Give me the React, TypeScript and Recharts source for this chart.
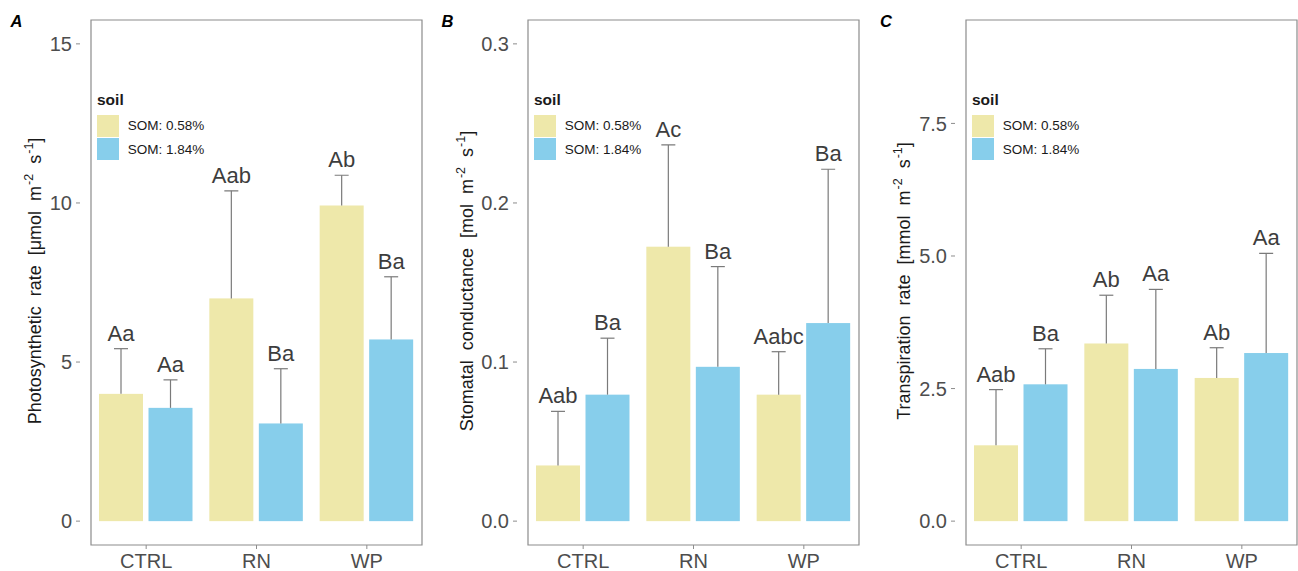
import React from "react";
import { Bar, BarChart, Legend, ReferenceArea, XAxis, YAxis } from "recharts";

const groups = ["CTRL", "RN", "WP"];
const seriesNames = ["SOM: 0.58%", "SOM: 1.84%"];

// A - photosynthetic rate
const photoLow = [4.0, 7.0, 9.92];
const photoLowErr = [1.42, 3.38, 0.95];
const photoLowSig = ["Aa", "Aab", "Ab"];
const photoHigh = [3.56, 3.07, 5.71];
const photoHighErr = [0.88, 1.72, 1.97];
const photoHighSig = ["Aa", "Ba", "Ba"];

// B - stomatal conductance
const condLow = [0.035, 0.1725, 0.0795];
const condLowErr = [0.034, 0.064, 0.027];
const condLowSig = ["Aab", "Ac", "Aabc"];
const condHigh = [0.0795, 0.097, 0.1245];
const condHighErr = [0.0355, 0.063, 0.0967];
const condHighSig = ["Ba", "Ba", "Ba"];

// C - transpiration rate
const transLow = [1.43, 3.35, 2.7];
const transLowErr = [1.05, 0.91, 0.57];
const transLowSig = ["Aab", "Ab", "Ab"];
const transHigh = [2.58, 2.87, 3.17];
const transHighErr = [0.67, 1.5, 1.88];
const transHighSig = ["Ba", "Aa", "Aa"];

const FONT = "'Liberation Sans', Arial, sans-serif";
const LOW_COLOR = "#EEE8AA";
const HIGH_COLOR = "#87CEEB";
const ERR_COLOR = "#7a7a7a";
const BORDER = "#8c8c8c";

const buildRows = (
  low: number[], lowErr: number[], lowSig: string[],
  high: number[], highErr: number[], highSig: string[]
) =>
  groups.map((g, i) => ({
    group: g,
    low: low[i], lowErr: lowErr[i], lowSig: lowSig[i],
    high: high[i], highErr: highErr[i], highSig: highSig[i],
  }));

// bar + upper error bar + significance letters
const makeBarShape = (valueKey: string, errKey: string, sigKey: string) => (props: any) => {
  const { x, y, width, height, fill, payload } = props;
  const v = payload[valueKey];
  const unit = v ? height / v : 0;
  const top = y - payload[errKey] * unit;
  const cx = x + width / 2;
  return (
    <g>
      <rect x={x} y={y} width={width} height={height} fill={fill} />
      <line x1={cx} y1={y} x2={cx} y2={top} stroke={ERR_COLOR} strokeWidth={1.2} />
      <line x1={cx - 7} y1={top} x2={cx + 7} y2={top} stroke={ERR_COLOR} strokeWidth={1.2} />
      <text x={cx} y={top - 8} textAnchor="middle" fontSize={22} fill="#3d3d3d" fontFamily={FONT}>
        {payload[sigKey]}
      </text>
    </g>
  );
};

const renderLegend = (props: any) => {
  const { payload } = props;
  return (
    <div style={{ fontFamily: FONT, color: "#1a1a1a" }}>
      <div style={{ fontSize: 15.5, fontWeight: "bold", lineHeight: "17px", marginBottom: 7 }}>soil</div>
      {(payload || []).map((p: any, i: number) => (
        <div key={i} style={{ display: "flex", alignItems: "center", height: 21.7, marginBottom: 1.7 }}>
          <span style={{ width: 21.7, height: 21.7, background: p.color, marginRight: 9, display: "inline-block" }} />
          <span style={{ fontSize: 13.5 }}>{p.value}</span>
        </div>
      ))}
    </div>
  );
};

interface PanelProps {
  left: number;
  axisWidth: number;
  rows: any[];
  domain: [number, number];
  ticks: number[];
  digits: number;
}

const Panel: React.FC<PanelProps> = ({ left, axisWidth, rows, domain, ticks, digits }) => (
  <div style={{ position: "absolute", left, top: 0 }}>
    <BarChart
      width={440}
      height={571}
      data={rows}
      margin={{ top: 20, right: 440 - axisWidth - 353, left: 0, bottom: 0 }}
      barSize={44}
      barGap={5.5}
    >
      <XAxis
        dataKey="group"
        axisLine={false}
        tickLine={{ stroke: BORDER }}
        tickSize={4}
        tickMargin={5}
        height={26}
        interval={0}
        padding={{ left: 11, right: 11 }}
        tick={{ fontSize: 20, fill: "#4d4d4d", fontFamily: FONT }}
      />
      <YAxis
        type="number"
        domain={domain}
        allowDataOverflow
        ticks={ticks}
        width={axisWidth}
        axisLine={false}
        tickLine={{ stroke: BORDER }}
        tickSize={4}
        tickMargin={4}
        tickFormatter={(v: number) => v.toFixed(digits)}
        tick={{ fontSize: 20, fill: "#4d4d4d", fontFamily: FONT }}
      />
      <ReferenceArea y1={domain[0]} y2={domain[1]} fill="none" stroke={BORDER} strokeWidth={1.2} ifOverflow="visible" />
      <Bar dataKey="low" name={seriesNames[0]} fill={LOW_COLOR} shape={makeBarShape("low", "lowErr", "lowSig")} isAnimationActive={false} />
      <Bar dataKey="high" name={seriesNames[1]} fill={HIGH_COLOR} shape={makeBarShape("high", "highErr", "highSig")} isAnimationActive={false} />
      <Legend
        layout="vertical"
        align="center"
        verticalAlign="middle"
        content={renderLegend}
        wrapperStyle={{ left: axisWidth + 17, top: 91, width: "auto" }}
      />
    </BarChart>
  </div>
);

const AxisTitle: React.FC<{ x: number; parts: string[] }> = ({ x, parts }) => {
  const cy = 281;
  return (
    <text
      transform={`rotate(-90 ${x} ${cy})`}
      x={x}
      y={cy}
      textAnchor="middle"
      fontSize={18}
      fill="#1a1a1a"
      fontFamily={FONT}
      wordSpacing={5}
      style={{ whiteSpace: "pre" }}
    >
      <tspan>{parts[0]}</tspan>
      <tspan dy={-8} dx={1} fontSize={12.5}>{parts[1]}</tspan>
      <tspan dy={8}>{parts[2]}</tspan>
      <tspan dy={-8} dx={1} fontSize={12.5}>{parts[3]}</tspan>
      <tspan dy={8}>{parts[4]}</tspan>
    </text>
  );
};

const panelLetter = (letter: string, left: number) => (
  <div
    style={{
      position: "absolute", left, top: 12.6, fontSize: 16.5, lineHeight: "16.5px",
      fontWeight: "bold", fontStyle: "italic", fontFamily: FONT, color: "#000",
    }}
  >
    {letter}
  </div>
);

export default function App() {
  const photoRows = buildRows(photoLow, photoLowErr, photoLowSig, photoHigh, photoHighErr, photoHighSig);
  const condRows = buildRows(condLow, condLowErr, condLowSig, condHigh, condHighErr, condHighSig);
  const transRows = buildRows(transLow, transLowErr, transLowSig, transHigh, transHighErr, transHighSig);

  return (
    <div
      style={{
        position: "absolute", left: 0, top: 0, width: 1298, height: 571,
        overflow: "hidden", background: "#fff", fontFamily: FONT,
      }}
    >
      <Panel left={0} axisWidth={80} rows={photoRows} domain={[-0.75, 15.75]} ticks={[0, 5, 10, 15]} digits={0} />
      <Panel left={440} axisWidth={77} rows={condRows} domain={[-0.015, 0.315]} ticks={[0, 0.1, 0.2, 0.3]} digits={1} />
      <Panel left={880} axisWidth={75} rows={transRows} domain={[-0.45, 9.45]} ticks={[0, 2.5, 5, 7.5]} digits={1} />

      <svg width={1298} height={571} style={{ position: "absolute", left: 0, top: 0, pointerEvents: "none" }}>
        <AxisTitle x={40.7} parts={["Photosynthetic rate [μmol m", "-2", " s", "-1", "]"]} />
        <AxisTitle x={473} parts={["Stomatal conductance [mol m", "-2", " s", "-1", "]"]} />
        <AxisTitle x={910} parts={["Transpiration rate [mmol m", "-2", " s", "-1", "]"]} />
      </svg>

      {panelLetter("A", 10.5)}
      {panelLetter("B", 441.5)}
      {panelLetter("C", 880)}
    </div>
  );
}
